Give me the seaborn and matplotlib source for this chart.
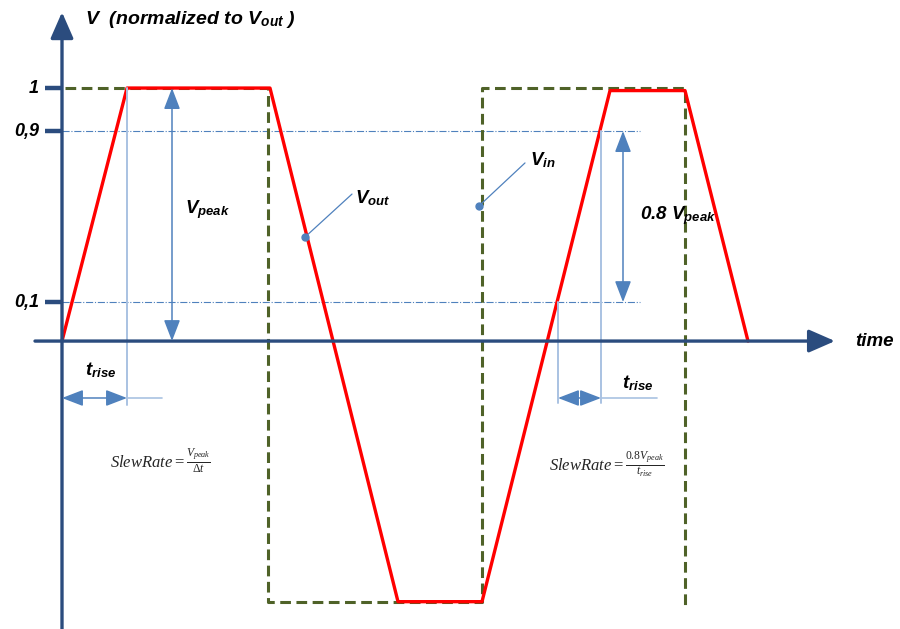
import numpy as np
import pandas as pd
import matplotlib
matplotlib.use("Agg")
import matplotlib.pyplot as plt
import seaborn as sns

# waveform corners (time in arbitrary units, V normalized to Vout)
t_out = [0.0, 0.65, 2.08, 3.36, 4.20, 5.48, 6.23, 6.86]
v_out = [0.0, 1.0, 1.0, -1.03, -1.03, 0.99, 0.99, 0.0]
t_in = [0.03, 2.06, 2.06, 4.20, 4.20, 6.23, 6.23]
v_in = [1.0, 1.0, -1.03, -1.03, 1.0, 1.0, -1.055]

# schematic level markers on the V axis
tick_pos = [1.0, 0.83, 0.154]
tick_labels = ["1", "0,9", "0,1"]

# rise-time markers
rise_left = [0.0, 0.65]
rise_right = [4.96, 5.39]

sns.set_style("white")
plt.rcParams["font.family"] = ["Liberation Sans", "DejaVu Sans"]
plt.rcParams["mathtext.fontset"] = "custom"
plt.rcParams["mathtext.it"] = "Liberation Serif:italic"
plt.rcParams["mathtext.rm"] = "Liberation Serif"
plt.rcParams["mathtext.bf"] = "Liberation Sans:italic:bold"

axis_col = "#2b4c7e"
guide_col = "#a9c2e2"
arrow_col = "#4f81bd"
red = "#ff0000"
olive = "#4f6228"

fig = plt.figure(figsize=(9, 6.29), dpi=100)
ax = fig.add_axes([0, 0, 1, 1])
ax.set_xlim(-0.62, 8.38)
ax.set_ylim(-1.138, 1.348)
ax.axis("off")

# axes with arrows
ax.annotate("", xy=(0, 1.30), xytext=(0, -1.138),
            arrowprops=dict(arrowstyle="-|>,head_length=0.8,head_width=0.35",
                            lw=2.4, color=axis_col, mutation_scale=20,
                            shrinkA=0, shrinkB=0))
ax.annotate("", xy=(7.73, 0), xytext=(-0.27, 0),
            arrowprops=dict(arrowstyle="-|>,head_length=0.8,head_width=0.35",
                            lw=2.4, color=axis_col, mutation_scale=20,
                            shrinkA=0, shrinkB=0))

# level ticks, labels and dash-dot guides
for y, lab in zip(tick_pos, tick_labels):
    ax.plot([-0.17, 0], [y, y], color=axis_col, lw=3.2, solid_capstyle="butt")
    ax.text(-0.23, y, lab, ha="right", va="center", fontsize=13,
            fontweight="bold", fontstyle="italic", color="black")
for y in tick_pos[1:]:
    ax.plot([0, 5.78], [y, y], color=arrow_col, lw=0.8, ls="-.")

# waveforms
df_in = pd.DataFrame({"t": t_in, "v": v_in})
df_out = pd.DataFrame({"t": t_out, "v": v_out})
sns.lineplot(data=df_in, x="t", y="v", sort=False, estimator=None, ax=ax,
             color=olive, lw=2.2)
ax.lines[-1].set_dashes([3.5, 1.8])
sns.lineplot(data=df_out, x="t", y="v", sort=False, estimator=None, ax=ax,
             color=red, lw=2.4)

# vertical guides
ax.plot([rise_left[1]] * 2, [1.0, -0.253], color=guide_col, lw=1.4)
ax.plot([rise_right[0]] * 2, [tick_pos[2], -0.245], color=guide_col, lw=1.4)
ax.plot([rise_right[1]] * 2, [tick_pos[1], -0.245], color=guide_col, lw=1.4)

dbl = dict(arrowstyle="<|-|>,head_length=1.3,head_width=0.5", lw=1.1,
           color=arrow_col, mutation_scale=10, shrinkA=0, shrinkB=0)
# Vpeak and 0.8 Vpeak arrows
ax.annotate("", xy=(1.10, 1.0), xytext=(1.10, 0), arrowprops=dbl)
ax.annotate("", xy=(5.61, tick_pos[1]), xytext=(5.61, tick_pos[2]), arrowprops=dbl)
# t_rise arrows
ax.annotate("", xy=(rise_left[0], -0.225), xytext=(rise_left[1], -0.225), arrowprops=dbl)
ax.plot([rise_left[1], 1.0], [-0.225, -0.225], color=guide_col, lw=1.2)
ax.annotate("", xy=(rise_right[0], -0.225), xytext=(rise_right[1], -0.225), arrowprops=dbl)
ax.plot([rise_right[1], 5.95], [-0.225, -0.225], color=guide_col, lw=1.2)

# callouts
ax.plot([2.43, 2.90], [0.411, 0.581], color=arrow_col, lw=0.9)
ax.plot([2.43], [0.411], "o", color=arrow_col, ms=5)
ax.plot([4.17, 4.63], [0.534, 0.704], color=arrow_col, lw=0.9)
ax.plot([4.17], [0.534], "o", color=arrow_col, ms=5)

lbl = dict(fontsize=13.5, fontweight="bold", fontstyle="italic", color="black",
           va="center", ha="left")
ax.text(2.93, 0.565, r"$\mathbf{V}_{\mathbf{out}}$", **lbl)
ax.text(4.68, 0.715, r"$\mathbf{V}_{\mathbf{in}}$", **lbl)
ax.text(1.23, 0.518, r"$\mathbf{V}_{\mathbf{peak}}$", **lbl)
ax.text(5.78, 0.498, r"0.8 $\mathbf{V}_{\mathbf{peak}}$", **lbl)
ax.text(0.23, -0.115, r"$\mathbf{t}_{\mathbf{rise}}$", **lbl)
ax.text(5.60, -0.166, r"$\mathbf{t}_{\mathbf{rise}}$", **lbl)
ax.text(7.93, 0.0, "time", **lbl)
lbl["fontsize"] = 14
ax.text(0.23, 1.269, r"V  (normalized to $\mathbf{V}_{\mathbf{out}}$ )", **lbl)

# slew rate formulas
ax.text(0.48, -0.474, r"$SlewRate=\frac{V_{peak}}{\Delta t}$", fontsize=12,
        va="center", ha="left")
ax.text(4.87, -0.486, r"$SlewRate=\frac{0.8V_{peak}}{t_{rise}}$", fontsize=12,
        va="center", ha="left")

fig.savefig("out.png", dpi=100)
